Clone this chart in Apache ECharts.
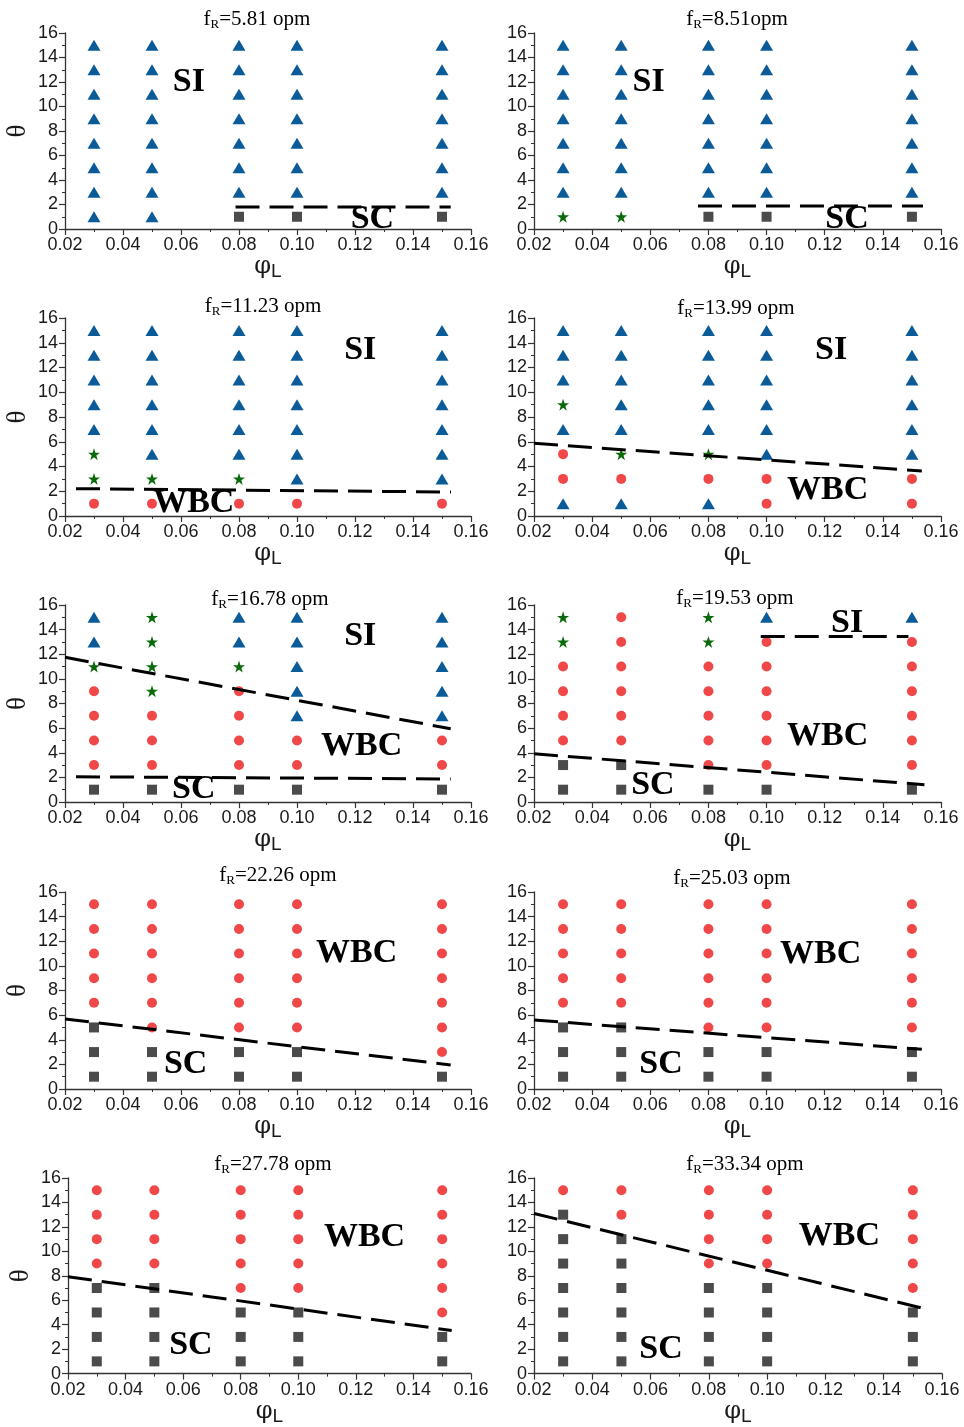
<!DOCTYPE html>
<html>
<head>
<meta charset="utf-8">
<script src="https://cdn.jsdelivr.net/npm/echarts@6/dist/echarts.min.js"></script>
<style>
  html, body { margin: 0; padding: 0; background: #fff; }
  #chart { width: 964px; height: 1427px; }
</style>
</head>
<body>
<div id="chart"></div>
<script>
// Sampled liquid fraction φL (x) and dimensionless θ (y)
const phiL = [0.03, 0.05, 0.08, 0.10, 0.15];
const theta = [1, 3, 5, 7, 9, 11, 13, 15];
const xTicks = [0.02, 0.04, 0.06, 0.08, 0.10, 0.12, 0.14, 0.16];
const yTicks = [0, 2, 4, 6, 8, 10, 12, 14, 16];
const rotationRates = ['5.81 opm', '8.51opm', '11.23 opm', '13.99 opm', '16.78 opm',
                       '19.53 opm', '22.26 opm', '25.03 opm', '27.78 opm', '33.34 opm'];

// Regime seen at each (φL, θ): one string per φL column, one letter per θ level.
// T = SI, S = transitional, W = WBC, Q = SC
const regime_5_81  = ['TTTTTTTT', 'TTTTTTTT', 'QTTTTTTT', 'QTTTTTTT', 'QTTTTTTT'];
const regime_8_51  = ['STTTTTTT', 'STTTTTTT', 'QTTTTTTT', 'QTTTTTTT', 'QTTTTTTT'];
const regime_11_23 = ['WSSTTTTT', 'WSTTTTTT', 'WSTTTTTT', 'WTTTTTTT', 'WTTTTTTT'];
const regime_13_99 = ['TWWTSTTT', 'TWSTTTTT', 'TWSTTTTT', 'WWTTTTTT', 'WWTTTTTT'];
const regime_16_78 = ['QWWWWSTT', 'QWWWSSSS', 'QWWWWSTT', 'QWWTTTTT', 'QWWTTTTT'];
const regime_19_53 = ['QQWWWWSS', 'QQWWWWWW', 'QWWWWWSS', 'QWWWWWWT', 'QWWWWWWT'];
const regime_22_26 = ['QQQWWWWW', 'QQWWWWWW', 'QQWWWWWW', 'QQWWWWWW', 'QWWWWWWW'];
const regime_25_03 = ['QQQWWWWW', 'QQQWWWWW', 'QQWWWWWW', 'QQWWWWWW', 'QQWWWWWW'];
const regime_27_78 = ['QQQQWWWW', 'QQQQWWWW', 'QQQWWWWW', 'QQQWWWWW', 'QQWWWWWW'];
const regime_33_34 = ['QQQQQQQW', 'QQQQQQWW', 'QQQQWWWW', 'QQQQWWWW', 'QQQWWWWW'];

// Regime boundaries: each entry is one dashed segment [[φL, θ], [φL, θ]]
const boundary_5_81  = [[[0.0788, 1.80], [0.1530, 1.80]]];
const boundary_8_51  = [[[0.0764, 1.88], [0.1538, 1.88]]];
const boundary_11_23 = [[[0.0238, 2.21], [0.1531, 1.94]]];
const boundary_13_99 = [[[0.0200, 5.87], [0.1534, 3.64]]];
const boundary_16_78 = [[[0.0200, 11.75], [0.1530, 5.95]], [[0.0238, 2.05], [0.1530, 1.87]]];
const boundary_19_53 = [[[0.0980, 13.45], [0.1488, 13.45]], [[0.0200, 3.92], [0.1543, 1.40]]];
const boundary_22_26 = [[[0.0200, 5.69], [0.1530, 1.95]]];
const boundary_25_03 = [[[0.0200, 5.60], [0.1534, 3.22]]];
const boundary_27_78 = [[[0.0200, 7.92], [0.1533, 3.52]]];
const boundary_33_34 = [[[0.0200, 13.10], [0.1530, 5.37]]];

// Regime names written inside each panel, anchored in data coordinates
const regionText_5_81  = [['SI', 0.0627, 12.0], ['SC', 0.1260, 0.8]];
const regionText_8_51  = [['SI', 0.0594, 12.0], ['SC', 0.1277, 0.8]];
const regionText_11_23 = [['SI', 0.1218, 13.4], ['WBC', 0.0644, 1.03]];
const regionText_13_99 = [['SI', 0.1222, 13.4], ['WBC', 0.1210, 2.1]];
const regionText_16_78 = [['SI', 0.1218, 13.45], ['WBC', 0.1223, 4.5], ['SC', 0.0644, 1.0]];
const regionText_19_53 = [['SI', 0.1277, 14.5], ['WBC', 0.1210, 5.33], ['SC', 0.0609, 1.4]];
const regionText_22_26 = [['WBC', 0.1206, 11.0], ['SC', 0.0616, 2.03]];
const regionText_25_03 = [['WBC', 0.1186, 10.96], ['SC', 0.0637, 2.03]];
const regionText_27_78 = [['WBC', 0.1230, 11.12], ['SC', 0.0627, 2.36]];
const regionText_33_34 = [['WBC', 0.1248, 11.25], ['SC', 0.0636, 2.03]];

const regimes    = [regime_5_81, regime_8_51, regime_11_23, regime_13_99, regime_16_78,
                    regime_19_53, regime_22_26, regime_25_03, regime_27_78, regime_33_34];
const boundaries = [boundary_5_81, boundary_8_51, boundary_11_23, boundary_13_99, boundary_16_78,
                    boundary_19_53, boundary_22_26, boundary_25_03, boundary_27_78, boundary_33_34];
const regionTexts = [regionText_5_81, regionText_8_51, regionText_11_23, regionText_13_99, regionText_16_78,
                     regionText_19_53, regionText_22_26, regionText_25_03, regionText_27_78, regionText_33_34];

// ---- layout and styling ----
const gridBoxes = [
  { left: 65,  top: 33,   width: 406, height: 196 }, { left: 534, top: 33,   width: 407, height: 196 },
  { left: 65,  top: 318,  width: 406, height: 198 }, { left: 534, top: 318,  width: 407, height: 198 },
  { left: 65,  top: 605,  width: 406, height: 197 }, { left: 534, top: 605,  width: 407, height: 197 },
  { left: 65,  top: 892,  width: 406, height: 197 }, { left: 534, top: 892,  width: 407, height: 197 },
  { left: 68,  top: 1178, width: 403, height: 197 }, { left: 534, top: 1178, width: 408, height: 197 }
];
const titleAnchors = [[257, 19], [737, 19], [263, 306], [736, 308], [270, 599],
                      [735, 598], [278, 875], [732, 878], [273, 1164], [745, 1164]];

const STAR = 'path://M50,0 L61.8,35.3 L99,35.3 L69,57.4 L80.4,92.7 L50,70.8 L19.6,92.7 L31,57.4 L1,35.3 L38.2,35.3 Z';
const markerStyle = {
  T: { name: 'SI',  symbol: 'triangle', symbolSize: [13, 11], color: '#0b5b99' },
  S: { name: 'transition', symbol: STAR, symbolSize: 12, color: '#0a6a0a' },
  W: { name: 'WBC', symbol: 'circle',   symbolSize: 10, color: '#f04848' },
  Q: { name: 'SC',  symbol: 'rect',     symbolSize: 10, color: '#4b4b4b' }
};

const axisColor = '#333';
const tickFont = { fontFamily: 'Liberation Sans, Arial, sans-serif', fontSize: 18, color: '#1a1a1a' };

const grids = [], xAxes = [], yAxes = [], series = [], graphics = [];

regimes.forEach((regime, p) => {
  grids.push(Object.assign({ containLabel: false }, gridBoxes[p]));
  const leftCol = p % 2 === 0;

  xAxes.push({
    type: 'value', gridIndex: p,
    min: xTicks[0], max: xTicks[xTicks.length - 1], interval: 0.02,
    axisLine: { show: true, onZero: false, lineStyle: { color: axisColor, width: 1.3 } },
    axisTick: { show: true, length: 6, lineStyle: { color: axisColor, width: 1.2 } },
    minorTick: { show: true, splitNumber: 2, length: 3, lineStyle: { color: axisColor, width: 1 } },
    splitLine: { show: false },
    axisLabel: Object.assign({ margin: 7, formatter: v => v.toFixed(2) }, tickFont),
    name: '{p|φ}{l|L}', nameLocation: 'middle', nameGap: 22,
    nameTextStyle: {
      rich: {
        p: { fontFamily: 'DejaVu Serif, serif', fontSize: 24, color: '#1a1a1a' },
        l: { fontFamily: 'Liberation Sans, Arial, sans-serif', fontSize: 19, color: '#1a1a1a', padding: [10, 0, 0, 0] }
      }
    }
  });

  yAxes.push({
    type: 'value', gridIndex: p,
    min: yTicks[0], max: yTicks[yTicks.length - 1], interval: 2,
    axisLine: { show: true, onZero: false, lineStyle: { color: axisColor, width: 1.3 } },
    axisTick: { show: true, length: 6, lineStyle: { color: axisColor, width: 1.2 } },
    minorTick: { show: true, splitNumber: 2, length: 3, lineStyle: { color: axisColor, width: 1 } },
    splitLine: { show: false },
    axisLabel: Object.assign({ margin: 7 }, tickFont),
    name: leftCol ? 'θ' : '', nameLocation: 'middle', nameRotate: 90, nameGap: 34,
    nameTextStyle: { fontFamily: 'Liberation Serif, serif', fontSize: 27, color: '#1a1a1a' }
  });

  // one scatter series per regime marker
  Object.keys(markerStyle).forEach(code => {
    const m = markerStyle[code];
    const pts = [];
    regime.forEach((col, i) => {
      col.split('').forEach((c, j) => { if (c === code) pts.push([phiL[i], theta[j]]); });
    });
    if (!pts.length) return;
    series.push({
      type: 'scatter', name: m.name, xAxisIndex: p, yAxisIndex: p,
      symbol: m.symbol, symbolSize: m.symbolSize,
      itemStyle: { color: m.color, opacity: 1 },
      data: pts, z: 3, silent: true
    });
  });

  // dashed regime boundaries
  boundaries[p].forEach(seg => {
    series.push({
      type: 'line', xAxisIndex: p, yAxisIndex: p, data: seg,
      symbol: 'none', silent: true, z: 4,
      lineStyle: { color: '#000', width: 3, type: [24, 10] }
    });
  });

  // regime names
  series.push({
    type: 'scatter', xAxisIndex: p, yAxisIndex: p, symbolSize: 0, silent: true, z: 5,
    itemStyle: { color: '#000' },
    data: regionTexts[p].map(r => ({ value: [r[1], r[2]], name: r[0] })),
    label: {
      show: true, position: 'inside', formatter: d => d.name,
      fontFamily: 'Liberation Serif, Times New Roman, serif', fontWeight: 'bold',
      fontSize: 34, color: '#000', textBorderWidth: 0, opacity: 1
    }
  });

  // panel heading f_R = ...
  graphics.push({
    type: 'text', x: titleAnchors[p][0], y: titleAnchors[p][1], silent: true,
    style: {
      text: '{a|f}{s|R}{a|=' + rotationRates[p] + '}',
      align: 'center', verticalAlign: 'middle',
      rich: {
        a: { fontFamily: 'Liberation Serif, serif', fontSize: 21, color: '#1a1a1a' },
        s: { fontFamily: 'Liberation Serif, serif', fontSize: 13, color: '#1a1a1a', padding: [11, 0, 0, 0] }
      }
    }
  });
});

const chart = echarts.init(document.getElementById('chart'), null, { renderer: 'canvas' });
chart.setOption({
  backgroundColor: '#fff',
  animation: false,
  grid: grids,
  xAxis: xAxes,
  yAxis: yAxes,
  series: series,
  graphic: graphics
});
</script>
</body>
</html>
